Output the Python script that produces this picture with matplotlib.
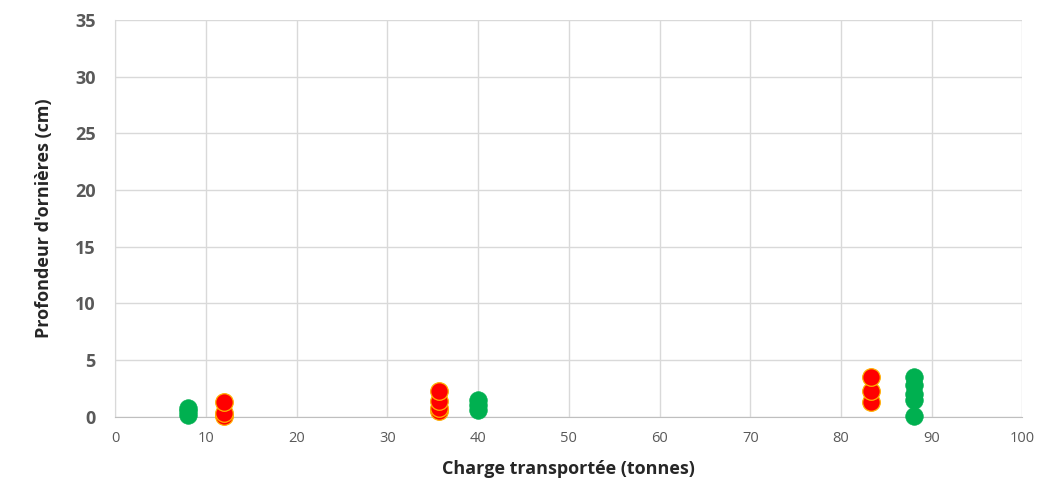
import numpy as np
import matplotlib.pyplot as plt

plt.rcParams['font.family'] = ['Open Sans', 'DejaVu Sans']

# red series (charge, depth)
red_x = [12, 12, 12, 35.7, 35.7, 35.7, 35.7, 83.3, 83.3, 83.3]
red_y = [0.1, 0.3, 1.3, 0.5, 0.8, 1.4, 2.3, 1.3, 2.3, 3.5]
# green series
green_x = [8, 8, 8, 40, 40, 40, 88, 88, 88, 88, 88]
green_y = [0.2, 0.5, 0.8, 0.6, 1.0, 1.5, 0.1, 1.5, 2.0, 2.8, 3.5]

x_ticks = np.arange(0, 101, 10)
y_ticks = np.arange(0, 36, 5)

fig = plt.figure(figsize=(10.38, 4.95), dpi=100)
ax = fig.add_axes([0.111, 0.158, 0.874, 0.802])

ax.scatter(green_x, green_y, s=160, color='#00B050', edgecolors='#00B050',
           linewidths=0.5, zorder=3, clip_on=False)
ax.scatter(red_x, red_y, s=160, color='#FF0000', edgecolors='#FFB000',
           linewidths=0.9, zorder=3, clip_on=False)

ax.set_xlim(0, 100)
ax.set_ylim(0, 35)
ax.set_xticks(x_ticks)
ax.set_yticks(y_ticks)
ax.grid(True, color='#D9D9D9', linewidth=1)
ax.set_axisbelow(True)
for side in ['top', 'right']:
    ax.spines[side].set_visible(False)
ax.spines['left'].set_color('#D9D9D9')
ax.spines['bottom'].set_color('#BFBFBF')
ax.tick_params(axis='both', length=0, colors='#595959')
ax.tick_params(axis='x', labelsize=10.5, pad=10)
ax.tick_params(axis='y', labelsize=13, pad=14)
for t in ax.get_yticklabels():
    t.set_fontweight('bold')

ax.set_xlabel('Charge transportée (tonnes)', fontsize=13, fontweight='bold',
              color='#262626', labelpad=10)
ax.set_ylabel("Profondeur d'ornières (cm)", fontsize=13, fontweight='bold',
              color='#262626', labelpad=16)

fig.savefig('out.png', dpi=100)
